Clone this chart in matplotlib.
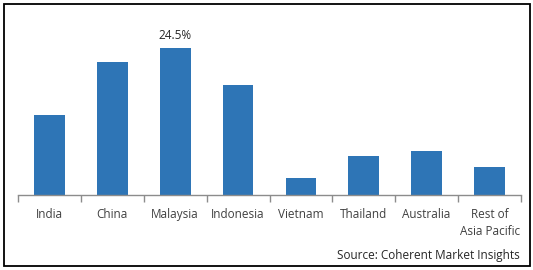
import matplotlib.pyplot as plt
from matplotlib.patches import Rectangle

countries = ["India", "China", "Malaysia", "Indonesia", "Vietnam", "Thailand", "Australia", "Rest of\nAsia Pacific"]
share = [13.4, 22.2, 24.5, 18.4, 2.8, 6.5, 7.3, 4.7]
label_idx = 2

plt.rcParams['font.family'] = ['Open Sans', 'DejaVu Sans']

W, H = 533, 270
fig = plt.figure(figsize=(W / 100, H / 100), dpi=100)
ax = fig.add_axes([18 / W, 74.7 / H, 503 / W, 168.3 / H])

x = range(len(countries))
ax.bar(x, share, width=0.49, color="#2E75B6")
ax.set_xlim(-0.5, len(countries) - 0.5)
ax.set_ylim(0, 28)

ax.text(label_idx, share[label_idx] + 1.0, "%.1f%%" % share[label_idx],
        ha="center", va="bottom", fontsize=8.5, color="#262626")

for s in ["top", "right", "left"]:
    ax.spines[s].set_visible(False)
ax.spines["bottom"].set_color("#8c8c8c")
ax.spines["bottom"].set_linewidth(1)
ax.set_yticks([])
ax.set_xticks([i - 0.5 for i in range(len(countries) + 1)], minor=False)
ax.set_xticklabels([])
ax.tick_params(axis="x", which="major", length=5, color="#8c8c8c", width=1)
ax.set_xticks(list(x), minor=True)
ax.set_xticklabels(countries, minor=True, fontsize=8.5, color="#404040", va="top",
                   linespacing=1.45)
ax.tick_params(axis="x", which="minor", length=0, pad=9)

fig.text(520 / W, 1 - 255 / H, "Source: Coherent Market Insights", ha="right", va="center",
         fontsize=8.5, color="#262626")

fig.patches.append(Rectangle((3.5 / W, 4 / H), 526.5 / W, 262 / H, transform=fig.transFigure,
                             fill=False, edgecolor="black", linewidth=1.3))

fig.savefig("out.png", dpi=100)
